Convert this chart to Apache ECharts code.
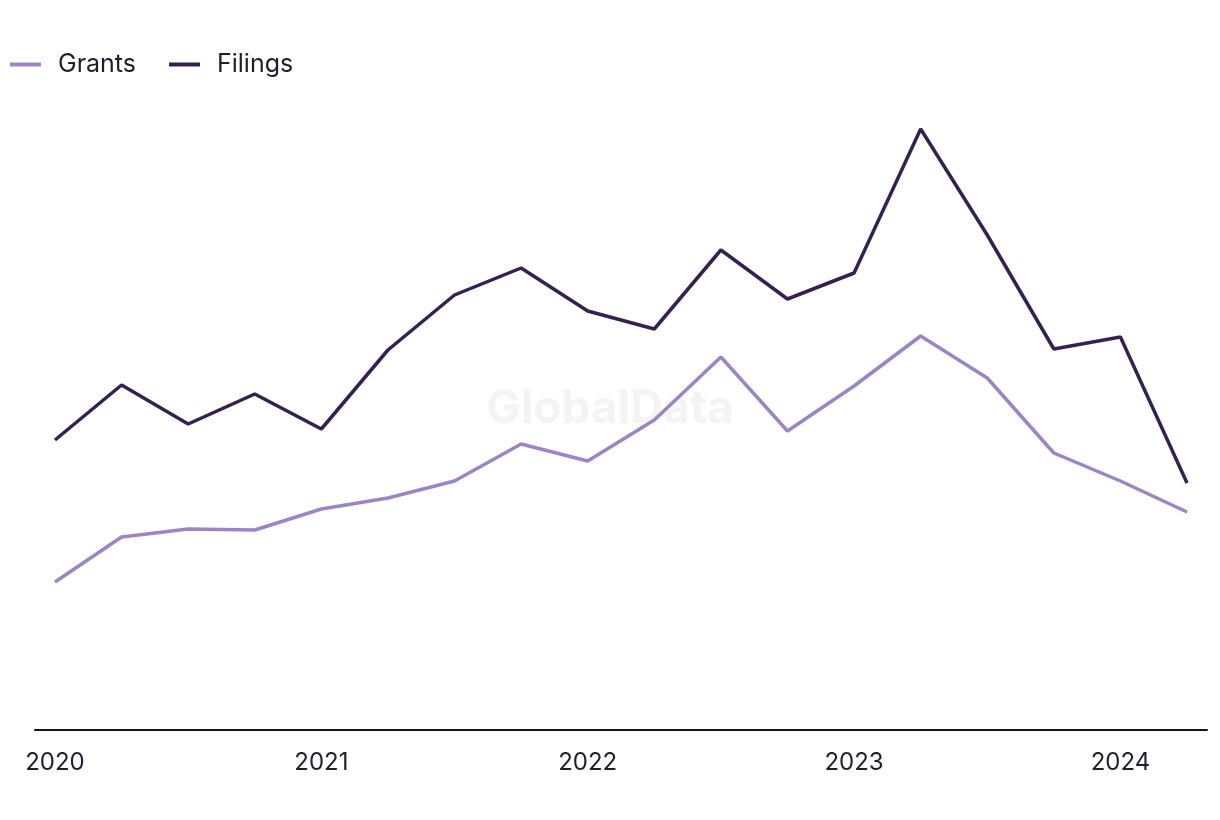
<!DOCTYPE html>
<html>
<head>
<meta charset="utf-8">
<script src="https://cdn.jsdelivr.net/npm/echarts@6/dist/echarts.min.js"></script>
<style>html,body{margin:0;padding:0;background:#fff}#c{width:1220px;height:820px}</style>
</head>
<body>
<div id="c"></div>
<script>
// Quarterly points, 2020 Q1 .. 2024 Q2 (relative index units)
const quarters = ['2020 Q1','2020 Q2','2020 Q3','2020 Q4','2021 Q1','2021 Q2','2021 Q3','2021 Q4','2022 Q1','2022 Q2','2022 Q3','2022 Q4','2023 Q1','2023 Q2','2023 Q3','2023 Q4','2024 Q1','2024 Q2'];
const yearLabels = ['2020','2021','2022','2023','2024'];
const yearTickIndex = [0,4,8,12,16];
const grants  = [148,193,201,200,221,232,249,286,269,310,373,299,344,394,352,277,249,218];
const filings = [290,345,306,336,301,380,435,462,419,401,480,431,457,601,495,381,393,247];

const chart = echarts.init(document.getElementById('c'));
const toPairs = arr => arr.map((v,i)=>[i,v]);
chart.setOption({
  backgroundColor:'#ffffff',
  animation:false,
  graphic:[{type:'text',left:'center',top:386,z:0,style:{text:'GlobalData',fontSize:46,fontWeight:'bold',fontFamily:'Inter, Roboto, sans-serif',fill:'#f4f4f4'}}],
  legend:{
    left:5, top:47, itemWidth:31, itemHeight:4, itemGap:33,
    icon:'rect',
    textStyle:{fontSize:25,color:'#1e1e2e',fontFamily:'Inter, "Noto Sans", sans-serif',padding:[0,0,0,12]},
    data:['Grants','Filings']
  },
  grid:{left:35,right:13,top:100,bottom:90},
  xAxis:{
    type:'value', min:-0.3, max:17.3,
    splitLine:{show:false},
    axisTick:{show:false},
    axisLine:{show:true,lineStyle:{color:'#141424',width:2}},
    axisLabel:{
      customValues:yearTickIndex,
      formatter:v=>yearLabels[yearTickIndex.indexOf(Math.round(v))] || '',
      fontSize:24,color:'#1e1e2e',margin:21,fontFamily:'Inter, "Noto Sans", sans-serif'
    }
  },
  yAxis:{type:'value',min:0,max:630,show:false,splitLine:{show:false}},
  series:[
    {name:'Grants',type:'line',data:toPairs(grants),symbol:'none',z:3,
     lineStyle:{color:'#9b85c5',width:3.5},itemStyle:{color:'#9b85c5'}},
    {name:'Filings',type:'line',data:toPairs(filings),symbol:'none',z:4,
     lineStyle:{color:'#35214f',width:3.5},itemStyle:{color:'#35214f'}}
  ]
});
</script>
</body>
</html>
